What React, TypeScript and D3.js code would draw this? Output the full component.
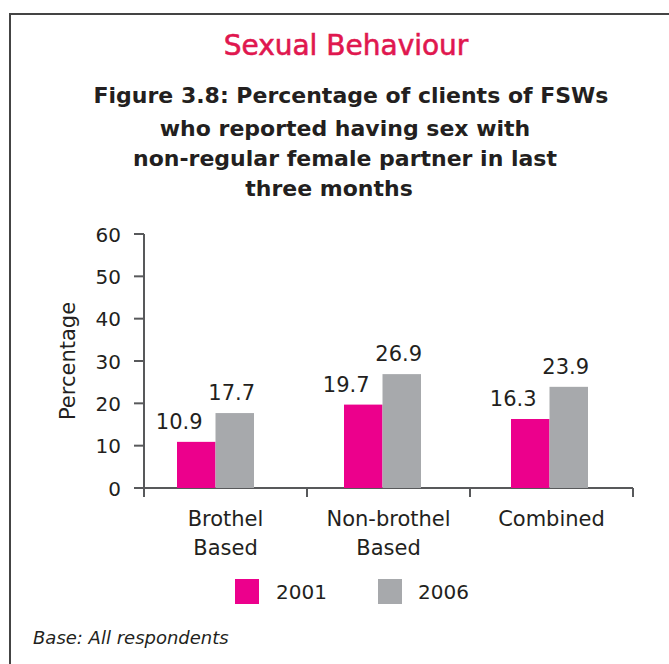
import React from "react";
import * as d3 from "d3";

const categories = [["Brothel", "Based"], ["Non-brothel", "Based"], ["Combined"]];
const seriesNames = ["2001", "2006"];
const values2001 = [10.9, 19.7, 16.3];
const values2006 = [17.7, 26.9, 23.9];
const yTicks = [0, 10, 20, 30, 40, 50, 60];
const titleLines = [
  "Figure 3.8: Percentage of clients of FSWs",
  "who reported having sex with",
  "non-regular female partner in last",
  "three months",
];
const colors = ["#EC008C", "#A7A9AC"];

const FONT = "'DejaVu Sans', sans-serif";
const TEXT = "#231F20";

export default function App() {
  const W = 669, H = 664;
  const left = 144, right = 633, top = 234, bottom = 488;
  const x = d3.scaleBand<number>().domain([0, 1, 2]).range([left, right]);
  const xBars = d3.scaleBand<number>().domain([0, 1, 2]).range([132, 633]);
  const y = d3.scaleLinear().domain([0, 60]).range([bottom, top]);
  const barW = 38.5;
  const series = [values2001, values2006];
  const titleX = [351, 345, 345, 329];
  const titleY = [103, 136, 166, 196];

  return (
    <svg width={W} height={H} style={{ position: "absolute", left: 0, top: 0 }} fontFamily={FONT}>
      <rect width={W} height={H} fill="#fff" />
      <path d={`M10,${H} V14 H${W}`} fill="none" stroke="#444" strokeWidth={2} />
      <text x={346} y={55} textAnchor="middle" fontSize={28} fill="#E0174F" stroke="#E0174F" strokeWidth={0.6}>
        Sexual Behaviour
      </text>
      {titleLines.map((t, i) => (
        <text key={i} x={titleX[i]} y={titleY[i]} textAnchor="middle" fontSize={22} fontWeight="bold" fill={TEXT}>
          {t}
        </text>
      ))}
      {/* y axis */}
      <line x1={left} x2={left} y1={top} y2={bottom} stroke="#58595B" strokeWidth={2} />
      {yTicks.map((t) => (
        <g key={t}>
          <line x1={left - 10} x2={left} y1={y(t)} y2={y(t)} stroke="#58595B" strokeWidth={2} />
          <text x={121} y={y(t) + 7.5} textAnchor="end" fontSize={20} fill={TEXT}>
            {t}
          </text>
        </g>
      ))}
      <text transform="translate(75,361) rotate(-90)" textAnchor="middle" fontSize={21} fill={TEXT}>
        Percentage
      </text>
      {/* x axis */}
      <line x1={left} x2={right} y1={bottom} y2={bottom} stroke="#58595B" strokeWidth={2} />
      {[0, 1, 2, 3].map((i) => {
        const xx = i < 3 ? x(i)! : right;
        return <line key={i} x1={xx} x2={xx} y1={bottom} y2={bottom + 9} stroke="#58595B" strokeWidth={2} />;
      })}
      {categories.map((lines, i) => (
        <text key={i} textAnchor="middle" fontSize={21} fill={TEXT}>
          {lines.map((l, j) => (
            <tspan key={j} x={x(i)! + x.bandwidth() / 2} y={526 + j * 29}>
              {l}
            </tspan>
          ))}
        </text>
      ))}
      {/* bars */}
      {series.map((vals, s) =>
        vals.map((v, i) => {
          const cx = xBars(i)! + xBars.bandwidth() / 2;
          const bx = cx - barW + s * barW;
          return (
            <g key={`${s}-${i}`}>
              <rect x={bx} y={y(v)} width={barW} height={bottom - y(v)} fill={colors[s]} />
              <text
                x={bx + barW / 2 + (s === 0 ? -17 : -3)}
                y={y(v) - 13}
                textAnchor="middle"
                fontSize={21}
                fill={TEXT}
              >
                {v.toFixed(1)}
              </text>
            </g>
          );
        })
      )}
      {/* legend */}
      {seriesNames.map((n, i) => (
        <g key={n}>
          <rect x={235 + i * 143} y={579} width={24} height={25} fill={colors[i]} />
          <text x={276 + i * 142} y={599} fontSize={20} fill={TEXT}>
            {n}
          </text>
        </g>
      ))}
      <text x={33} y={644} fontSize={18} fontStyle="italic" fill={TEXT}>
        Base: All respondents
      </text>
    </svg>
  );
}
